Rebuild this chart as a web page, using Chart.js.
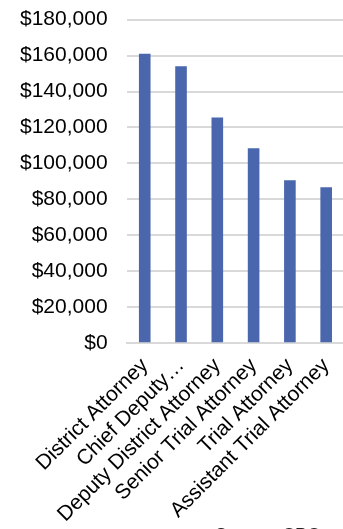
<!DOCTYPE html>
<html>
<head>
<meta charset="utf-8">
<script src="https://cdn.jsdelivr.net/npm/chart.js@4.4.1/dist/chart.umd.min.js"></script>
<style>
  html, body { margin: 0; padding: 0; background: #fff; overflow: hidden; }
  .wrap { position: relative; width: 343px; height: 529px; overflow: hidden; }
  #salaries { position: absolute; left: -7px; top: -12px; }
  .source { position: absolute; left: 215px; top: 525px; font: 18px "Liberation Sans", Arial, sans-serif; color: #222; white-space: nowrap; }
</style>
</head>
<body>
<div class="wrap">
  <canvas id="salaries" width="361" height="545"></canvas>
  <div class="source">Source: CPC</div>
</div>
<script>
const positions = ['District Attorney', 'Chief Deputy…', 'Deputy District Attorney', 'Senior Trial Attorney', 'Trial Attorney', 'Assistant Trial Attorney']
const salaries = [161000, 154000, 125600, 108500, 90600, 86700]
const yTicks = [0, 20000, 40000, 60000, 80000, 100000, 120000, 140000, 160000, 180000]

const font = { family: '"Liberation Sans", Arial, sans-serif', size: 21 }

new Chart(document.getElementById('salaries'), {
  type: 'bar',
  data: {
    labels: positions,
    datasets: [{
      data: salaries,
      backgroundColor: '#4a66ad',
      barPercentage: 0.32,
      categoryPercentage: 1
    }]
  },
  options: {
    responsive: false,
    animation: false,
    layout: { padding: { top: -6, right: 0, left: 8, bottom: -4 } },
    plugins: { legend: { display: false }, tooltip: { enabled: false } },
    scales: {
      x: {
        grid: { display: false, drawTicks: false },
        border: { color: '#d9d9d9', width: 2 },
        ticks: { color: '#000', font: font, minRotation: 45, maxRotation: 45, autoSkip: false, padding: 10 }
      },
      y: {
        min: 0,
        max: 180000,
        afterBuildTicks: axis => { axis.ticks = yTicks.map(v => ({ value: v })) },
        grid: { color: '#d9d9d9', lineWidth: 2, drawTicks: false },
        border: { display: false },
        ticks: {
          color: '#000',
          font: font,
          padding: 19,
          callback: v => '$' + v.toLocaleString('en-US')
        }
      }
    }
  }
})
</script>
</body>
</html>
